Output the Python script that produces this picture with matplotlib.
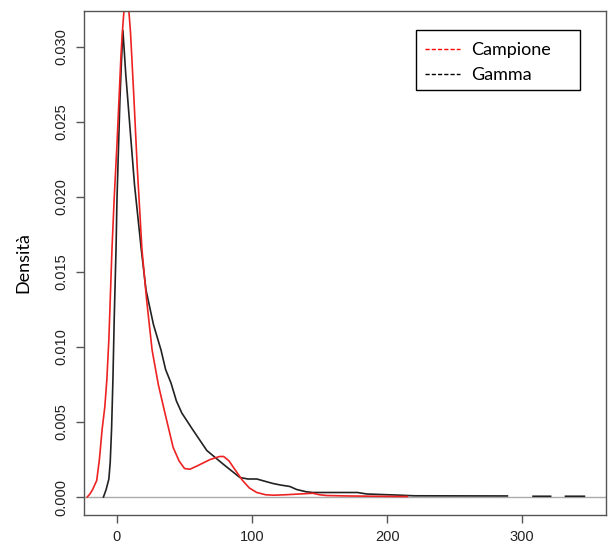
import numpy as np
import matplotlib.pyplot as plt
from matplotlib.patches import Rectangle

# densità stimate
x_campione = [-22, -20, -18, -15, -13, -11, -9, -7.5, -6, -3.7, -2, 0, 1.5, 3, 4, 5,
              6, 7, 8, 9, 10, 11, 12.6, 15, 18.5, 22, 26, 30.6, 35.5, 41.6, 46, 50,
              54, 60, 69, 76, 79, 83, 86, 93, 98, 103.5, 110, 116, 125, 135, 145,
              150, 155, 170, 190, 215]
y_campione = [0, 0.0002, 0.0005, 0.0011, 0.0025, 0.0045, 0.006, 0.0078, 0.0105,
              0.0165, 0.02, 0.0235, 0.0265, 0.0295, 0.031, 0.0322, 0.033, 0.0333,
              0.033, 0.0322, 0.031, 0.0293, 0.0265, 0.022, 0.0165, 0.0131, 0.0098,
              0.0075, 0.0056, 0.0033, 0.0024, 0.0019, 0.00185, 0.0021, 0.0025,
              0.0027, 0.0027, 0.0024, 0.002, 0.0011, 0.0006, 0.0003, 0.00015,
              0.00012, 0.00015, 0.0002, 0.00025, 0.00015, 0.0001, 0.00007, 0.00005,
              0.00003]

x_gamma = [-10, -8, -6, -5, -4, -3, -2, -0.7, 0, 1.2, 2.2, 3.3, 4.4, 5.5, 6.5, 8,
           10, 13, 18, 21.5, 27, 32.6, 36, 40, 44, 48, 56, 66.5, 78.5, 91, 97,
           103.5, 115.5, 121, 128, 133, 140, 145, 165, 178, 185, 207, 220, 289,
           np.nan, 308, 321, np.nan, 332, 346]
y_gamma = [0, 0.0005, 0.0012, 0.0023, 0.0045, 0.0078, 0.012, 0.0165, 0.0198,
           0.0235, 0.0265, 0.029, 0.0311, 0.0296, 0.0282, 0.0265, 0.0242, 0.0208,
           0.0165, 0.0138, 0.0115, 0.0098, 0.0085, 0.0076, 0.0064, 0.0056, 0.0045,
           0.0031, 0.0022, 0.0013, 0.0012, 0.0012, 0.0009, 0.0008, 0.0007, 0.0005,
           0.00035, 0.0003, 0.0003, 0.0003, 0.0002, 0.00013, 0.00008, 0.00007,
           np.nan, 0.00005, 0.00005, np.nan, 0.00005, 0.00005]

xticks = [0, 100, 200, 300]
yticks = [0, 0.005, 0.010, 0.015, 0.020, 0.025, 0.030]

plt.rcParams['font.family'] = ['Liberation Sans', 'DejaVu Sans']

fig = plt.figure(figsize=(6.08, 5.51), dpi=100)
ax = fig.add_axes([84/608, 1-515/551, (606-84)/608, (515-11)/551])

ax.axhline(0, color='#aaaaaa', lw=1)
ax.plot(x_gamma, y_gamma, color='#222222', lw=1.2)
ax.plot(x_campione, y_campione, color='#ee2222', lw=1.2)

ax.set_xlim(-24.4, 362)
ax.set_ylim(-0.0012, 0.0324)
ax.set_xticks(xticks)
ax.set_xticklabels([str(t) for t in xticks])
ax.set_yticks(yticks)
ax.set_yticklabels(['%.3f' % t for t in yticks], rotation=90, va='center')
ax.tick_params(direction='out', length=6, width=1, color='#555555',
               labelsize=10.5, labelcolor='#222222', pad=5)
for s in ax.spines.values():
    s.set_color('#555555')
    s.set_linewidth(1)

ax.set_ylabel('Densità', family='Lato', fontsize=13, labelpad=17)

# legenda con riquadro disegnato a mano
h1, = ax.plot([], [], color='red', ls=(0, (3, 1.5)), lw=1)
h2, = ax.plot([], [], color='black', ls=(0, (3, 1.5)), lw=1)
leg = ax.legend([h1, h2], ['Campione', 'Gamma'], loc='upper left',
                bbox_to_anchor=(416/608, 1-33/551), bbox_transform=fig.transFigure,
                frameon=False, prop={'family': 'Lato', 'size': 13},
                handlelength=1.95, handletextpad=0.6, borderpad=0.5,
                labelspacing=0.5, borderaxespad=0)
fig.patches.append(Rectangle((416/608, 1-90/551), (580-416)/608, (90-30)/551,
                             transform=fig.transFigure, fill=False,
                             edgecolor='black', lw=1))

fig.savefig('out.png', dpi=100)
